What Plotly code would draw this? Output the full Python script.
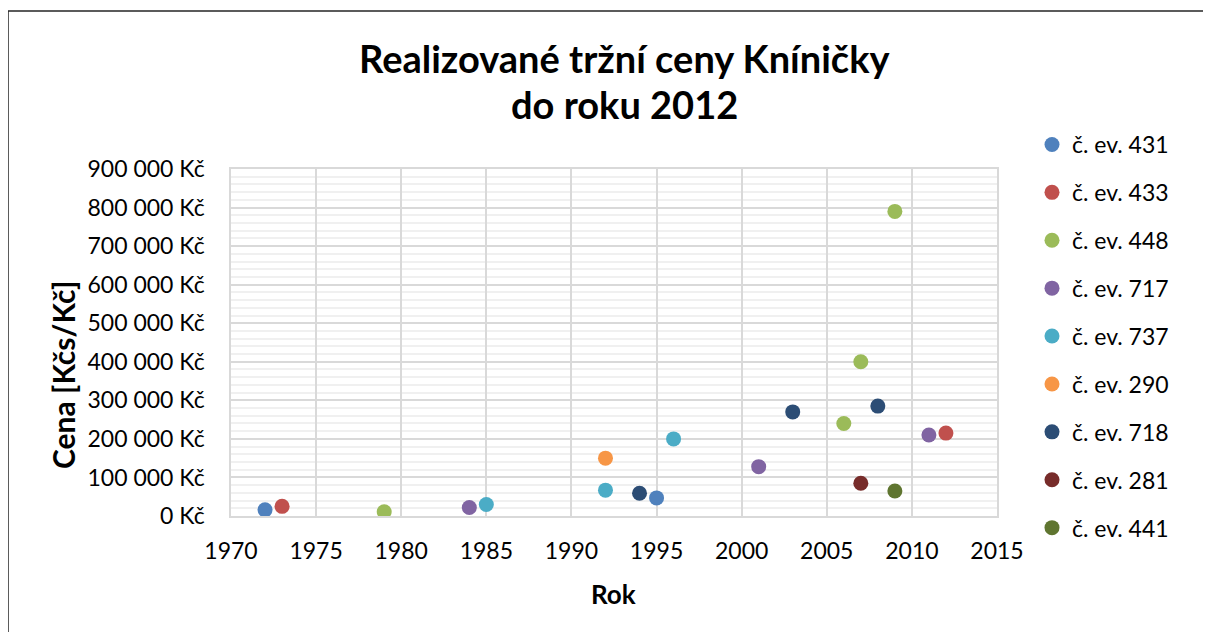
import plotly.graph_objects as go

# data
series_names = ["č. ev. 431", "č. ev. 433", "č. ev. 448", "č. ev. 717", "č. ev. 737",
                "č. ev. 290", "č. ev. 718", "č. ev. 281", "č. ev. 441"]
series_years = [
    [1972, 1995],
    [1973, 2012],
    [1979, 2006, 2007, 2009],
    [1984, 2001, 2011],
    [1985, 1992, 1996],
    [1992],
    [1994, 2003, 2008],
    [2007],
    [2009],
]
series_prices = [
    [16000, 47000],
    [25000, 215000],
    [11000, 240000, 400000, 790000],
    [22000, 128000, 210000],
    [30000, 67000, 200000],
    [150000],
    [59000, 270000, 285000],
    [85000],
    [65000],
]
series_colors = ["#4F81BD", "#C0504D", "#9BBB59", "#8064A2", "#4BACC6",
                 "#F79646", "#2C4D75", "#772C2A", "#5F7530"]

FONT = "Lato, 'Open Sans', sans-serif"

fig = go.Figure()
for name, xs, ys, col in zip(series_names, series_years, series_prices, series_colors):
    fig.add_trace(go.Scatter(x=xs, y=ys, mode='markers', name=name, legendgroup=name,
                             marker=dict(size=15, color=col)))

# page body adds an 8px margin, so figure coords = screen coords - 8
FW, FH = 1195, 624
L, R, T, B = 223, 989, 161, 508
W, H = R - L, B - T

def px(x):
    return (x - L) / W

def py(y):
    return (B - y) / H

fig.update_layout(
    width=FW, height=FH,
    margin=dict(l=L, r=FW - R, t=T, b=FH - B, autoexpand=False),
    paper_bgcolor='white', plot_bgcolor='white',
    font=dict(family=FONT, size=23, color='#000000'),
    separators=', ',
    showlegend=True,
    legend=dict(x=px(1024), y=py(115), xanchor='left', yanchor='top',
                font=dict(size=23), tracegroupgap=15, itemwidth=30,
                maxheight=600, bgcolor='rgba(0,0,0,0)'),
    xaxis=dict(range=[1970, 2015], dtick=5, tick0=1970,
               showgrid=True, gridcolor='#D9D9D9', gridwidth=1.5,
               showline=True, linecolor='#D9D9D9', linewidth=1.5, mirror=True,
               zeroline=False, ticks='', ticklabelstandoff=14),
    yaxis=dict(range=[0, 900000], dtick=100000, tick0=0,
               tickformat=',d', ticksuffix=' Kč',
               showgrid=True, gridcolor='#D9D9D9', gridwidth=1.5,
               minor=dict(dtick=20000, showgrid=True, gridcolor='#F0F0F0', gridwidth=1.5),
               showline=True, linecolor='#D9D9D9', linewidth=1.5, mirror=True,
               zeroline=False, ticks='', ticklabelstandoff=20),
    annotations=[
        dict(text='<b>Realizované tržní ceny Kníničky</b>', x=px(616), y=py(50),
             xref='paper', yref='paper', showarrow=False, xanchor='center', yanchor='middle',
             font=dict(size=38)),
        dict(text='<b>do roku 2012</b>', x=px(616), y=py(96),
             xref='paper', yref='paper', showarrow=False, xanchor='center', yanchor='middle',
             font=dict(size=38)),
        dict(text='<b>Rok</b>', x=px(605), y=py(586),
             xref='paper', yref='paper', showarrow=False, xanchor='center', yanchor='middle',
             font=dict(size=26)),
        dict(text='<b>Cena [Kčs/Kč]</b>', x=px(55), y=py(367), textangle=-90,
             xref='paper', yref='paper', showarrow=False, xanchor='center', yanchor='middle',
             font=dict(size=30)),
    ],
    shapes=[
        dict(type='rect', xref='paper', yref='paper',
             x0=px(0), x1=px(1300), y0=py(720), y1=py(3),
             line=dict(color='#262626', width=1.5), layer='above'),
    ],
)

fig.write_html("out.html")
